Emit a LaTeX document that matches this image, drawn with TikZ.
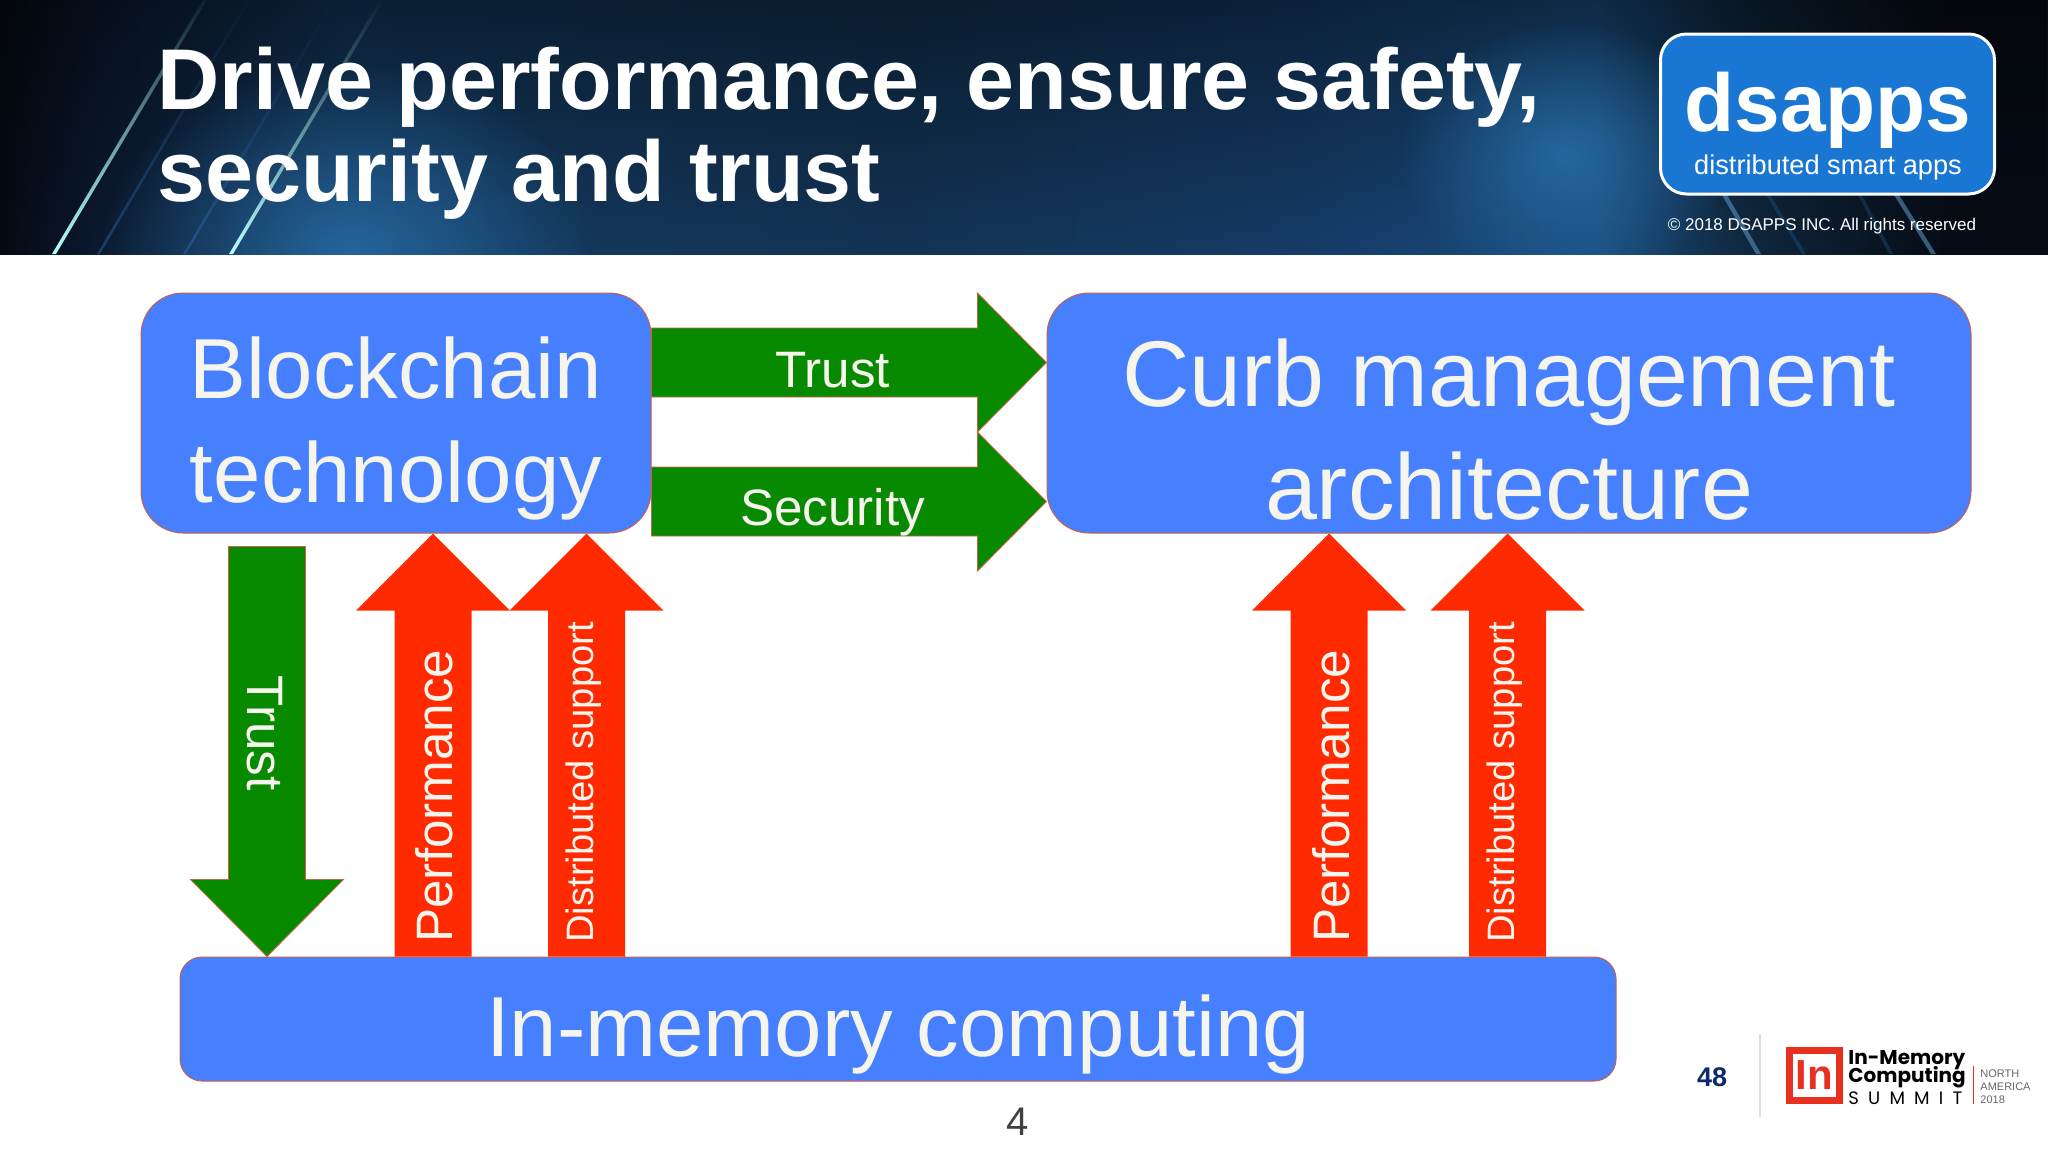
\documentclass[tikz,border=0pt]{standalone}
\usepackage{fontspec}
\setmainfont{Liberation Sans}
\newfontfamily\summitfont{Poppins}
\usetikzlibrary{positioning,calc,fadings}

\definecolor{boxblue}{HTML}{4680FF}
\definecolor{boxedge}{HTML}{C8604C}
\definecolor{arrowgreen}{HTML}{078A00}
\definecolor{arrowred}{HTML}{FF2A00}
\definecolor{paletext}{HTML}{F5F5EE}
\definecolor{logoblue}{HTML}{1976D2}
\definecolor{summitred}{HTML}{E8301F}
\definecolor{pagenavy}{HTML}{0B2A6B}
\definecolor{bandA}{HTML}{060A14}
\definecolor{bandB}{HTML}{0C1A30}
\definecolor{bandC}{HTML}{153A60}
\definecolor{bandD}{HTML}{133455}
\definecolor{bandE}{HTML}{163C68}
\definecolor{bandF}{HTML}{1B4E80}
\definecolor{bandG}{HTML}{10283F}
\definecolor{bandH}{HTML}{070C16}
\definecolor{glowblue}{HTML}{2A74B0}
\definecolor{streakblue}{HTML}{3D80D0}

\pgfdeclarehorizontalshading{headerband}{100bp}{color(0bp)=(bandA); color(25bp)=(bandA); color(27.4bp)=(bandB); color(33.5bp)=(bandC); color(47bp)=(bandD); color(56.7bp)=(bandE); color(64bp)=(bandF); color(67.7bp)=(bandG); color(72.6bp)=(bandH); color(75bp)=(bandH); color(100bp)=(bandH)}
\tikzfading[name=glowfade, inner color=transparent!25, outer color=transparent!100]
\tikzfading[name=topfade, top color=transparent!55, bottom color=transparent!100]

\begin{document}
\begin{tikzpicture}[
        x=0.5pt, y=-0.5pt,
        bluebox/.style={rectangle, draw=boxedge, line width=0.5pt, fill=boxblue, text=paletext, inner sep=0pt, align=center},
        fatarrow/.style args={#1/#2/#3}{to path={
            -- ($(\tikztostart)!#1!90:(\tikztotarget)$)
            -- ($(\tikztotarget)!#3!(\tikztostart)!#1!90:(\tikztotarget)$)
            -- ($(\tikztotarget)!#3!(\tikztostart)!#2!90:(\tikztotarget)$)
            -- (\tikztotarget)
            -- ($(\tikztotarget)!#3!(\tikztostart)!#2!-90:(\tikztotarget)$)
            -- ($(\tikztotarget)!#3!(\tikztostart)!#1!-90:(\tikztotarget)$)
            -- ($(\tikztostart)!#1!-90:(\tikztotarget)$)
            -- cycle}},
        greenarrow/.style={fill=arrowgreen, draw=boxedge, line width=0.4pt, line join=miter},
        redarrow/.style={fill=arrowred, fatarrow=19.25pt/38.5pt/38.5pt},
        arrowlabel/.style={text=paletext, inner sep=0pt, font=\fontsize{25.6}{30}\selectfont},
        sidelabel/.style={arrowlabel, rotate=90, anchor=base west},
        supportlabel/.style={sidelabel, font=\fontsize{19.1}{24}\selectfont},
        flat/.style={inner sep=0pt, anchor=base west},
        streak/.style={bottom color=#1, middle color=streakblue, top color=bandD!60!black}
    ]
    \useasboundingbox (0,0) rectangle (2048,1152);

    % Header band
    \shade[shading=headerband] (0,0) rectangle (2048,254);
    \fill[black, path fading=topfade] (0,0) rectangle (2048,254);
    \begin{scope}
        \clip (0,0) rectangle (2048,254);
        \shade[inner color=glowblue, outer color=glowblue, path fading=glowfade] (100,60) rectangle (600,450);
        \shade[inner color=glowblue, outer color=glowblue, path fading=glowfade] (1400,20) rectangle (1730,290);
    \end{scope}

    % Streaks
    \shade[streak=cyan!30!white] (52,254) -- (56,254) -- (207,0) -- (203,0) -- cycle;
    \shade[streak=cyan!30!white] (229,254) -- (233,254) -- (384,0) -- (380,0) -- cycle;
    \shade[streak=streakblue, opacity=0.35] (97,254) -- (100,254) -- (250,0) -- (247,0) -- cycle;
    \shade[streak=streakblue, opacity=0.35] (183,254) -- (186,254) -- (336,0) -- (333,0) -- cycle;
    \fill[glowblue!80!white, opacity=0.6] (1722,195) -- (1727,195) -- (1761,254) -- (1756,254) -- cycle;
    \fill[glowblue!80!white, opacity=0.6] (1894,195) -- (1899,195) -- (1936,254) -- (1931,254) -- cycle;
    \fill[glowblue, opacity=0.25] (1766,195) -- (1770,195) -- (1806,254) -- (1802,254) -- cycle;
    \fill[glowblue, opacity=0.25] (1858,195) -- (1862,195) -- (1893,254) -- (1889,254) -- cycle;

    % Title
    \node[flat, text=white, font=\fontsize{43.1}{46}\bfseries\selectfont] (titleone) at (157,109) {Drive performance, ensure safety,};
    \node[flat, text=white, font=\fontsize{43.1}{46}\bfseries\selectfont] (titletwo) at (157,201) {security and trust};

    % Logo
    \node[rectangle, draw=white, line width=1.5pt, fill=logoblue, rounded corners=13pt, minimum width=167pt, minimum height=80pt] (dsappsbox) at (1827.5,114) {};
    \node[inner sep=0pt, anchor=base, text=white, font=\fontsize{41}{44}\bfseries\selectfont] (dsapps) at (1828,131) {dsapps};
    \node[inner sep=0pt, anchor=base, text=white, font=\fontsize{13.6}{16}\selectfont] (dsappssub) at (1828,174) {distributed smart apps};
    \node[inner sep=0pt, anchor=base, text=white, font=\fontsize{8.5}{10}\selectfont] (copyright) at (1822,230) {© 2018 DSAPPS INC. All rights reserved};

    % Boxes
    \node[bluebox, rounded corners=21pt, minimum width=255pt, minimum height=120pt, font=\fontsize{42.6}{52}\selectfont] (blockchain) at (396,413) {\rule{0pt}{46.3pt}Blockchain\\technology};
    \node[bluebox, rounded corners=21pt, minimum width=462pt, minimum height=120pt, font=\fontsize{46.7}{56.3}\selectfont, right=197.5pt of blockchain] (curb) {\rule{0pt}{50.7pt}Curb management\\architecture};
    \node[bluebox, rounded corners=11pt, minimum width=718pt, minimum height=62pt, font=\fontsize{42.6}{51}\selectfont] (inmemory) at (898,1019) {\rule{0pt}{46.4pt}In-memory computing};

    % Arrow rows and columns
    \coordinate (trustrow) at (0,362.5);
    \coordinate (securityrow) at (0,501.5);
    \coordinate (trustcol) at (267,0);
    \coordinate (perfcol) at (433,0);
    \coordinate (distcol) at (586.5,0);
    \coordinate (curbperfcol) at (1329,0);
    \coordinate (curbdistcol) at (1507.5,0);

    % Relationships
    \draw[greenarrow, fatarrow=17.25pt/34.75pt/34.5pt] (trustrow -| blockchain.east) to (trustrow -| curb.west);
    \draw[greenarrow, fatarrow=17.25pt/34.75pt/34.5pt] (securityrow -| blockchain.east) to (securityrow -| curb.west);
    \draw[greenarrow, fatarrow=19.25pt/38.25pt/38.5pt] ([yshift=-6.5pt]blockchain.south -| trustcol) to (inmemory.north -| trustcol);
    \fill[redarrow] (inmemory.north -| perfcol) to (blockchain.south -| perfcol);
    \fill[redarrow] (inmemory.north -| distcol) to (blockchain.south -| distcol);
    \fill[redarrow] (inmemory.north -| curbperfcol) to (curb.south -| curbperfcol);
    \fill[redarrow] (inmemory.north -| curbdistcol) to (curb.south -| curbdistcol);

    % Arrow labels
    \node[arrowlabel, anchor=base] (trustlabel) at (832.5,387) {Trust};
    \node[arrowlabel, anchor=base] (securitylabel) at (832.5,525.5) {Security};
    \node[arrowlabel, rotate=-90, anchor=base] (downlabel) at (247,733) {Trust};
    \node[sidelabel] (perflabel) at (452,943) {Performance};
    \node[supportlabel] (distlabel) at (593,943) {Distributed support};
    \node[sidelabel] (curbperflabel) at (1349,943) {Performance};
    \node[supportlabel] (curbdistlabel) at (1514,943) {Distributed support};

    % Footer
    \node[inner sep=0pt, anchor=base, text=black!75, font=\fontsize{20}{24}\selectfont] (slidenumber) at (1018,1135) {4};
    \node[inner sep=0pt, anchor=base, text=pagenavy, font=\fontsize{13.5}{16}\bfseries\selectfont] (pagenumber) at (1712,1086) {48};
    \node[fill=black!12, inner sep=0pt, minimum width=1pt, minimum height=41.5pt] (footerrule) at (1760,1075.5) {};
    \node[rectangle, draw=summitred, line width=3.75pt, minimum size=25pt, inner sep=0pt] (summitmark) at (1814.5,1075.5) {};
    \node[inner sep=0pt, text=summitred, font=\fontsize{21}{24}\bfseries\selectfont] (summitin) at (summitmark) {In};
    \node[flat, text=black, font=\summitfont\fontsize{10}{13}\bfseries\selectfont] (summitone) at (1848,1064) {In-Memory};
    \node[flat, text=black, font=\summitfont\fontsize{10}{13}\bfseries\selectfont] (summittwo) at (1848,1082) {Computing};
    \node[flat, text=black, font=\summitfont\fontsize{9}{11}\selectfont] (summitthree) at (1848,1104) {S\hspace{4.6pt}U\hspace{4.6pt}M\hspace{4.6pt}M\hspace{4.6pt}I\hspace{4.6pt}T};
    \node[fill=summitred, inner sep=0pt, minimum width=0.5pt, minimum height=19pt] (summitrule) at (1973,1085) {};
    \node[flat, text=black!60, font=\fontsize{5.5}{8}\selectfont] (north) at (1980,1077) {NORTH};
    \node[flat, text=black!60, font=\fontsize{5.5}{8}\selectfont] (america) at (1980,1090) {AMERICA};
    \node[flat, text=black!60, font=\fontsize{5.5}{8}\selectfont] (year) at (1980,1103) {2018};

\end{tikzpicture}
\end{document}
